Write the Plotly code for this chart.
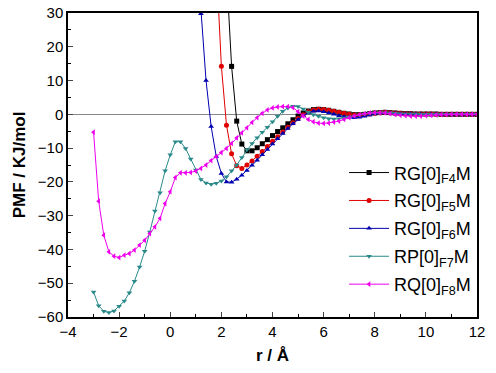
import plotly.graph_objects as go

# ---- data (r in Å, PMF in kJ/mol) ----
r0_f4 = 2.2
pmf_f4 = [42, 14.2, -2.0, -8.8, -10.8, -10.8, -9.9, -8.7, -7.5, -6.3, -5.1, -4.0, -2.8, -1.6, -0.5,
          0.4, 1.0, 1.4, 1.5, 1.4, 1.2, 0.9, 0.6, 0.3, 0.1, -0.1, -0.1, 0.0, 0.2, 0.4, 0.5, 0.6,
          0.5, 0.4, 0.3, 0.2, 0.2, 0.1, 0.1, 0.1, 0.1, 0.1, 0.0, 0.0, 0.0, 0.0, 0.0, 0.0, 0.0, 0.0]

r0_f5 = 1.8
pmf_f5 = [45, 14.2, -3.2, -11.7, -15.2, -16.0, -15.0, -13.8, -12.4, -11.0, -9.5, -8.0, -6.6, -5.2,
          -3.8, -2.5, -1.2, -0.1, 0.8, 1.3, 1.5, 1.4, 1.2, 0.9, 0.6, 0.3, 0.0, -0.2, -0.2, -0.1,
          0.1, 0.3, 0.5, 0.6, 0.5, 0.4, 0.3, 0.2, 0.2, 0.1, 0.1, 0.1, 0.1, 0.0, 0.0, 0.0, 0.0,
          0.0, 0.0, 0.0, 0.0, 0.0]

r0_f6 = 1.0
pmf_f6 = [52, 29.8, 10.0, -3.6, -12.5, -17.5, -20.0, -20.1, -19.2, -18.0, -16.6, -15.1, -13.6,
          -12.0, -10.4, -8.8, -7.2, -5.7, -4.2, -2.8, -1.5, -0.4, 0.4, 0.9, 1.0, 0.8, 0.4, 0.0,
          -0.4, -0.7, -0.9, -1.0, -0.9, -0.6, -0.2, 0.2, 0.4, 0.5, 0.4, 0.3, 0.2, 0.1, 0.1, 0.1,
          0.0, 0.0, 0.0, 0.0, 0.0, 0.0, 0.0, 0.0, 0.0, 0.0, 0.0, 0.0]

r0_f7 = -3.0
pmf_f7 = [-52.6, -56.7, -58.3, -58.7, -58.2, -56.8, -55.3, -52.8, -49.4, -45.2, -40.5, -34.8,
          -28.6, -23.2, -16.7, -12.0, -8.1, -8.1, -10.1, -13.2, -16.5, -19.3, -20.3, -20.7, -20.4,
          -19.7, -18.5, -16.7, -15.0, -12.8, -10.5, -8.6, -6.9, -5.3, -3.8, -2.2, -0.6, 0.9, 1.9,
          2.4, 2.3, 1.6, 0.6, -0.1, -0.6, -1.0, -1.3, -1.4, -1.3, -1.1, -0.8, -0.5, -0.2, 0.1,
          0.3, 0.4, 0.5, 0.5, 0.4, 0.3, 0.2, 0.1, 0.1, 0.1, 0.0, 0.0, 0.0, 0.0, 0.0, 0.0, 0.0,
          0.0, 0.0, 0.0, 0.0, 0.0]

r0_f8 = -3.0
pmf_f8 = [-5.3, -25.7, -35.8, -40.7, -42.0, -42.4, -41.7, -41.2, -40.2, -38.7, -37.3, -35.3,
          -33.3, -30.8, -26.4, -22.9, -18.7, -17.3, -17.3, -17.2, -16.8, -16.0, -15.0, -13.7,
          -12.5, -11.3, -10.1, -8.6, -7.0, -5.5, -4.0, -2.4, -1.0, 0.3, 1.3, 1.9, 2.2, 2.3, 2.3,
          2.0, 0.8, -0.5, -1.5, -2.2, -2.6, -2.7, -2.6, -2.3, -2.0, -1.5, -1.0, -0.5, -0.1, 0.2,
          0.4, 0.5, 0.5, 0.4, 0.2, -0.1, -0.3, -0.4, -0.5, -0.5, -0.5, -0.4, -0.3, -0.2, -0.1,
          -0.1, 0.0, 0.0, 0.0, 0.0, 0.0, 0.0]

step = 0.2

names = ["RG[0]<sub>F4</sub>M", "RG[0]<sub>F5</sub>M", "RG[0]<sub>F6</sub>M",
         "RP[0]<sub>F7</sub>M", "RQ[0]<sub>F8</sub>M"]
starts = [r0_f4, r0_f5, r0_f6, r0_f7, r0_f8]
series = [pmf_f4, pmf_f5, pmf_f6, pmf_f7, pmf_f8]
colors = ["#000000", "#e00000", "#0000b0", "#2a8a8a", "#ee00ee"]
symbols = ["square", "circle", "triangle-up", "triangle-down", "triangle-left"]

fig = go.Figure()
for k, (nm, s0, ys, c, sym) in enumerate(zip(names, starts, series, colors, symbols)):
    xs = [round(s0 + step * i, 2) for i in range(len(ys))]
    fig.add_trace(go.Scatter(
        x=xs, y=ys, name=nm, mode="lines+markers", legendgroup=f"g{k}",
        line=dict(color=c, width=1),
        marker=dict(symbol=sym, size=5, color=c, line=dict(width=0)),
    ))

font_family = "Arial, Liberation Sans, sans-serif"
fig.update_layout(
    width=496, height=373,
    margin=dict(l=68, r=19, t=13, b=56),
    paper_bgcolor="white", plot_bgcolor="white",
    font=dict(family=font_family, size=15, color="black"),
    legend=dict(x=0.675, y=0.535, xanchor="left", yanchor="top",
                bgcolor="rgba(0,0,0,0)", font=dict(size=18),
                tracegroupgap=1.5, itemwidth=40),
    xaxis=dict(range=[-4, 12], dtick=2, tick0=-4, ticks="inside", ticklen=5,
               showline=True, linecolor="black", linewidth=1.5, mirror=True,
               showgrid=False, zeroline=False, automargin=False,
               minor=dict(dtick=1, ticks="inside", ticklen=3, tickcolor="black"),
               title=dict(text="<b>r / Å</b>", font=dict(size=17), standoff=10),
               tickfont=dict(size=15)),
    yaxis=dict(range=[-60, 30], dtick=10, ticks="inside", ticklen=5,
               showline=True, linecolor="black", linewidth=1.5, mirror=True,
               showgrid=False, zeroline=True, zerolinecolor="#888888", zerolinewidth=1,
               automargin=False,
               minor=dict(dtick=5, ticks="inside", ticklen=3, tickcolor="black"),
               title=dict(text="<b>PMF / KJ/mol</b>", font=dict(size=17), standoff=8),
               tickfont=dict(size=15)),
)

fig.write_html("out.html", config={"displayModeBar": False},
               post_script="document.body.style.margin='0';document.body.style.overflow='hidden';")
